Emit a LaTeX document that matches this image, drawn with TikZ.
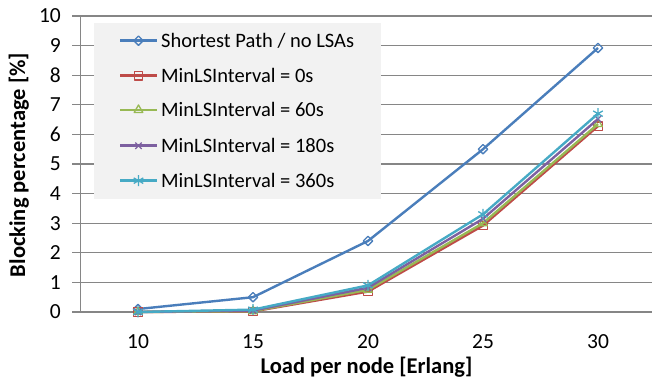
\documentclass[tikz,border=0pt]{standalone}
\usepackage{fontspec}
\setmainfont{Carlito}
\usetikzlibrary{plotmarks}
\definecolor{serblue}{HTML}{4A7EBB}
\definecolor{serred}{HTML}{BE4B48}
\definecolor{sergreen}{HTML}{98B954}
\definecolor{serpurple}{HTML}{7D60A0}
\definecolor{sercyan}{HTML}{46AAC5}
\definecolor{gridgray}{HTML}{868686}
\definecolor{legendgray}{HTML}{F2F2F2}

\begin{document}
\begin{tikzpicture}[x=1pt,y=1pt,
		font=\fontsize{20.5}{24}\selectfont,
		gridline/.style={gridgray,line width=1.2pt},
		series/.style={line width=2.4pt,line join=round},
		spath/.style={series,serblue,mark=square,mark size=3.3pt,mark options={rotate=45,line width=1.3pt,fill=white}},
		szero/.style={series,serred,mark=square,mark size=4.2pt,mark options={line width=1.3pt,fill=white}},
		ssixty/.style={series,sergreen,mark=triangle,mark size=5pt,mark options={line width=1.3pt,fill=white}},
		soneeighty/.style={series,serpurple,mark=x,mark size=4.5pt,mark options={line width=1.3pt}},
		sthreesixty/.style={series,sercyan,mark=asterisk,mark size=5.5pt,mark options={line width=1.3pt}},
		ticklabel/.style={inner sep=0pt,font=\fontsize{21.5}{24}\selectfont},
		axistitle/.style={inner sep=0pt,font=\fontsize{22.5}{26}\selectfont\bfseries}]
	\useasboundingbox (0,0) rectangle (652,387);
	% grid and axes
	\begin{scope}[shift={(-92,75)},x=23pt,y=29.6pt]
		\foreach \v in {1,...,10}
			\draw[gridline] (7.15,\v) -- (32.6,\v);
		\draw[gridline] (7.5,10) -- (7.5,0);
		\draw[gridline] (7.15,0) -- (32.6,0);
		\foreach \e in {10,15,20,25,30}
			\node[ticklabel] (x\e) at (\e,-1.0) {\e};
	\end{scope}
	\foreach \v in {0,...,10}
		\node[ticklabel,anchor=east] (y\v) at (61,{75+29.6*\v}) {\v};
	\node[axistitle,anchor=base] (xtitle) at (366.5,13.7) {Load per node [Erlang]};
	\node[axistitle,anchor=base,rotate=90] (ytitle) at (25,222) {Blocking percentage [\%]};
	% legend
	\fill[legendgray] (94,188) rectangle (381,364.3);
	\foreach \s/\yy/\txt [count=\i] in {spath/346.3/{Shortest Path / no LSAs},
			szero/311.3/{MinLSInterval = 0s},
			ssixty/277/{MinLSInterval = 60s},
			soneeighty/241.3/{MinLSInterval = 180s},
			sthreesixty/206.3/{MinLSInterval = 360s}}{
		\draw[\s,every mark/.append style={fill=legendgray},mark indices={2}]
			plot coordinates {(120,\yy) (138.5,\yy) (157,\yy)};
		\node[inner sep=0pt,anchor=base west] (leg\i) at (161,\yy-6.5) {\txt};
	}
	% data
	\begin{scope}[shift={(-92,75)},x=23pt,y=29.6pt]
		\draw[spath] plot coordinates {(10,0.1) (15,0.5) (20,2.4) (25,5.5) (30,8.92)};
		\draw[szero] plot coordinates {(10,0) (15,0.02) (20,0.69) (25,2.92) (30,6.28)};
		\draw[ssixty] plot coordinates {(10,0) (15,0.03) (20,0.75) (25,3.0) (30,6.35)};
		\draw[soneeighty] plot coordinates {(10,0) (15,0.05) (20,0.82) (25,3.15) (30,6.52)};
		\draw[sthreesixty] plot coordinates {(10,0) (15,0.08) (20,0.9) (25,3.3) (30,6.7)};
	\end{scope}
\end{tikzpicture}
\end{document}
